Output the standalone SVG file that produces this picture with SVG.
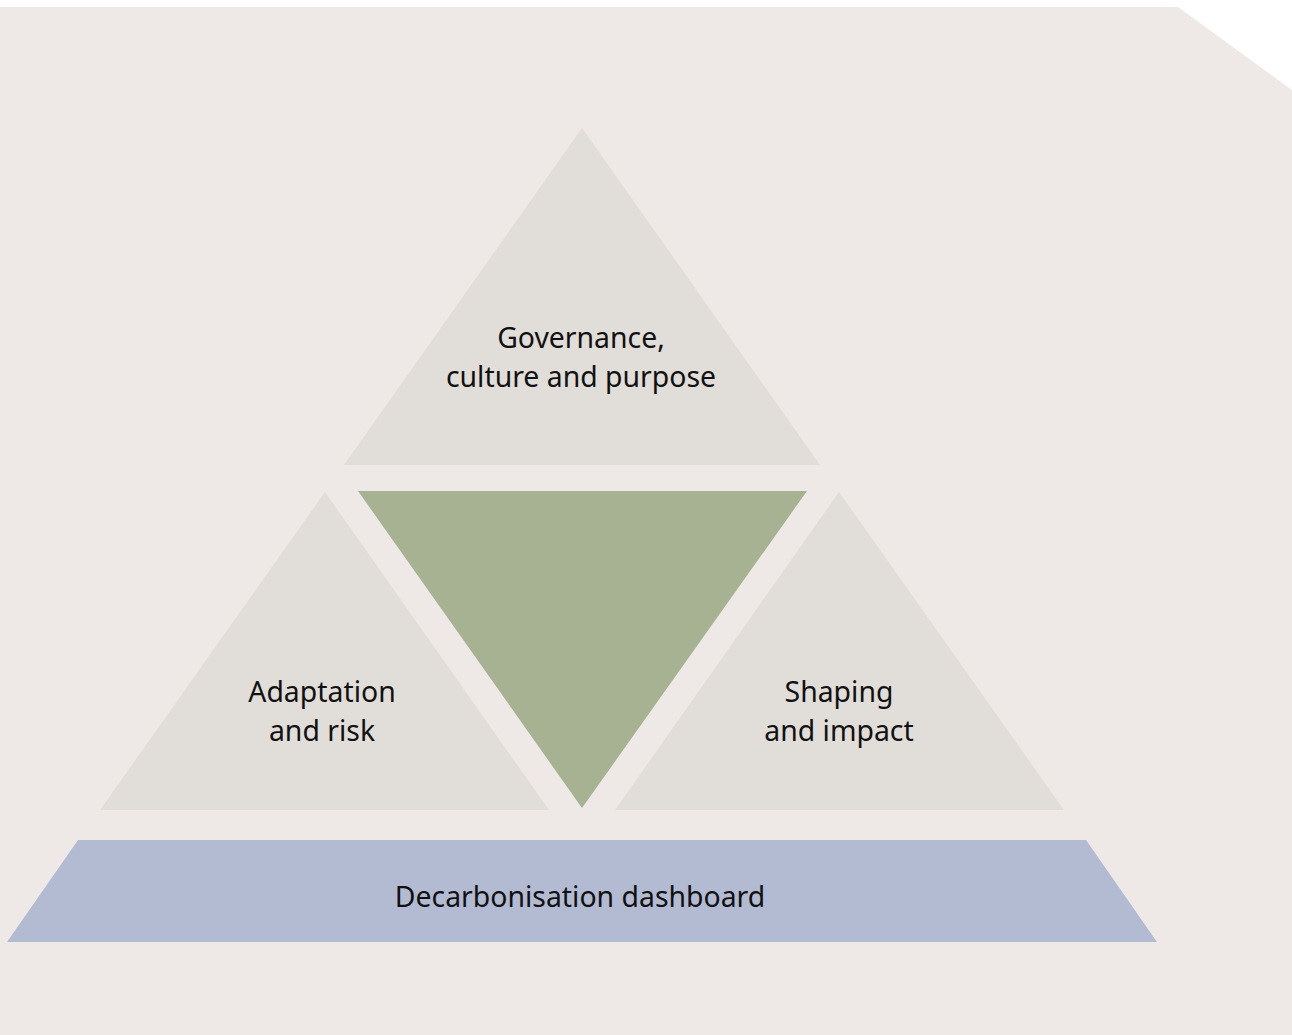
<svg xmlns="http://www.w3.org/2000/svg" width="1292" height="1035" viewBox="0 0 1292 1035">
<style>
.t{font-family:"Noto Sans","Open Sans",sans-serif;font-size:28.4px;fill:#111;text-anchor:middle}
.tri{fill:#E1DDD9}
</style>
<rect width="1292" height="1035" fill="#fff"/>
<polygon points="0,7 1178,7 1292,90 1292,1035 0,1035" fill="#EEE9E6"/>
<g id="governance">
<polygon class="tri" points="582,128 820,465 344,465"/>
<text class="t" x="581" y="348">Governance,</text>
<text class="t" x="581" y="387">culture and purpose</text>
</g>
<g id="centre">
<polygon points="358,491 807,491 582,808" fill="#A6B291"/>
</g>
<g id="adaptation">
<polygon class="tri" points="325,492 549,810 100,810"/>
<text class="t" x="322" y="702">Adaptation</text>
<text class="t" x="322" y="741">and risk</text>
</g>
<g id="shaping">
<polygon class="tri" points="839,492 1064,810 615,810"/>
<text class="t" x="839" y="702">Shaping</text>
<text class="t" x="839" y="741">and impact</text>
</g>
<g id="dashboard">
<polygon points="78,840 1086,840 1157,942 7,942" fill="#B3BBD3"/>
<text class="t" x="580" y="907">Decarbonisation dashboard</text>
</g>
<g id="connectors"></g>
</svg>
